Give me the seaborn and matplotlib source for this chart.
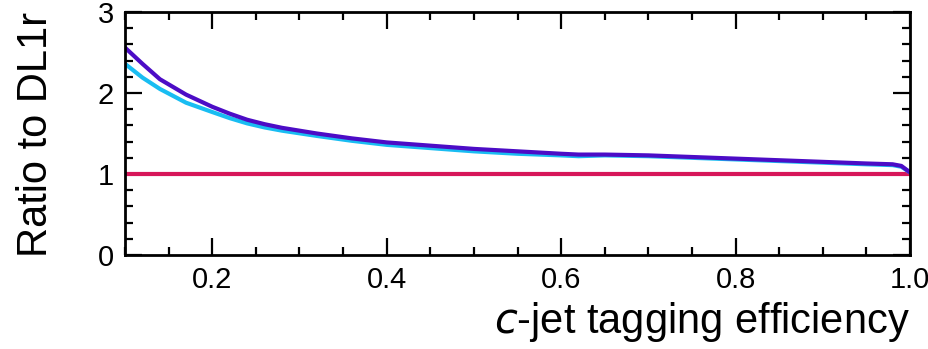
"""Ratio of c-jet rejection to DL1r versus c-jet tagging efficiency."""

import numpy as np
import pandas as pd
import matplotlib
matplotlib.use("Agg")
import matplotlib.pyplot as plt
import seaborn as sns
from matplotlib.ticker import MultipleLocator

# c-jet efficiency grid and ratios
eff = [0.10, 0.12, 0.14, 0.17, 0.20, 0.22, 0.24, 0.26, 0.28, 0.32, 0.36, 0.40, 0.45, 0.50,
       0.55, 0.60, 0.62, 0.65, 0.70, 0.75, 0.80, 0.85, 0.90, 0.95, 0.98, 0.99, 1.00]
ratio_purple = [2.56, 2.36, 2.17, 1.98, 1.83, 1.745, 1.67, 1.615, 1.57, 1.50, 1.44, 1.39,
                1.35, 1.31, 1.28, 1.25, 1.24, 1.24, 1.23, 1.21, 1.19, 1.17, 1.15, 1.13,
                1.12, 1.10, 1.02]
ratio_cyan = [2.36, 2.19, 2.05, 1.88, 1.765, 1.69, 1.625, 1.575, 1.535, 1.47, 1.41, 1.36,
              1.32, 1.28, 1.25, 1.23, 1.22, 1.23, 1.22, 1.20, 1.18, 1.16, 1.14, 1.12,
              1.11, 1.09, 1.02]
ratio_ref = [1.0] * len(eff)

sns.set_style("ticks")
plt.rcParams["font.family"] = ["Liberation Sans", "DejaVu Sans"]
plt.rcParams["text.color"] = "black"
plt.rcParams["axes.labelcolor"] = "black"
plt.rcParams["xtick.color"] = "black"
plt.rcParams["ytick.color"] = "black"

df = pd.DataFrame({"eff": eff, "ref": ratio_ref, "cyan": ratio_cyan, "purple": ratio_purple})

fig = plt.figure(figsize=(9.29, 3.49), dpi=100)
ax = fig.add_axes([0.1346, 0.2693, 0.845, 0.6963])

sns.lineplot(data=df, x="eff", y="ref", ax=ax, color="#D7175A", lw=3)
sns.lineplot(data=df, x="eff", y="cyan", ax=ax, color="#19BDF2", lw=3)
sns.lineplot(data=df, x="eff", y="purple", ax=ax, color="#4C0CC6", lw=3)

ax.set_xlim(0.1, 1.0)
ax.set_ylim(0, 3)
ax.xaxis.set_minor_locator(MultipleLocator(0.05))
ax.yaxis.set_major_locator(MultipleLocator(1))
ax.yaxis.set_minor_locator(MultipleLocator(0.2))
ax.set_xticks([0.2, 0.4, 0.6, 0.8, 1.0])
ax.set_xticklabels(["0.2", "0.4", "0.6", "0.8", "1.0"])

ax.tick_params(which="both", direction="in", top=True, right=True,
               labelsize=21, width=1.6, color="black")
ax.tick_params(which="major", length=12, pad=8)
ax.tick_params(which="minor", length=6)
for s in ax.spines.values():
    s.set_linewidth(2.0)
    s.set_color("black")

ax.set_xlabel(r"$\it{c}$-jet tagging efficiency", fontsize=30, loc="right", labelpad=4)
ax.set_ylabel("Ratio to DL1r", fontsize=30, loc="top", labelpad=30)

plt.savefig("out.png", dpi=100)
plt.close()
